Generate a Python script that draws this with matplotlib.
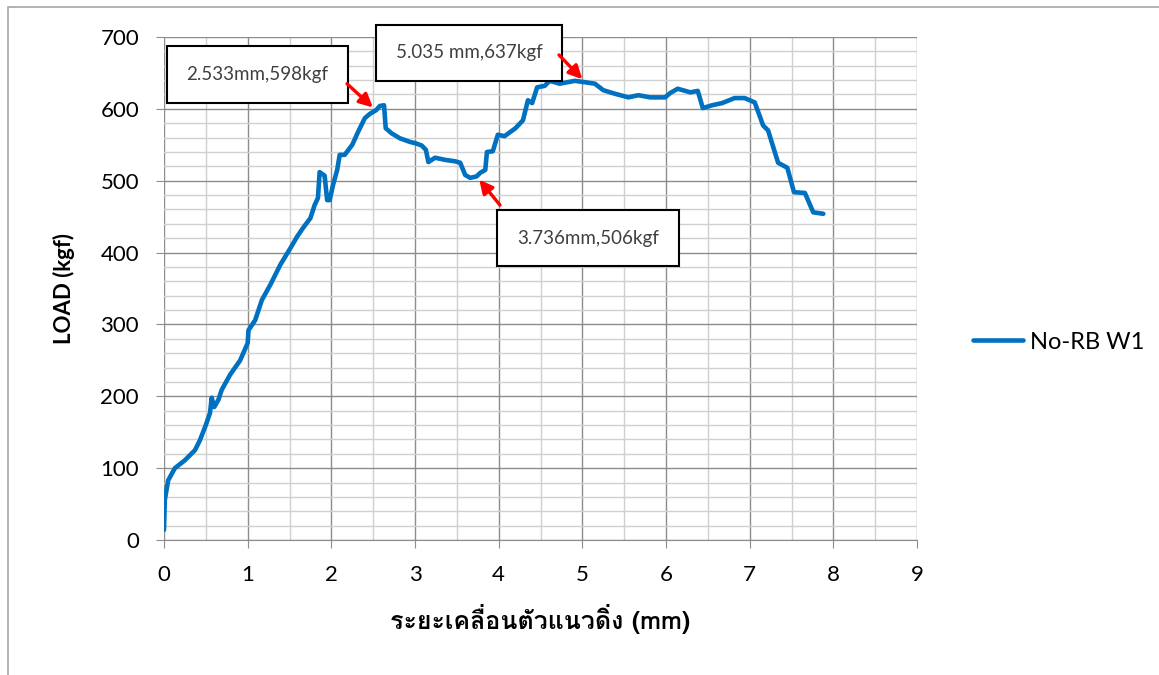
import matplotlib
matplotlib.use('Agg')
import matplotlib.pyplot as plt
from matplotlib import font_manager
from matplotlib.patches import Rectangle
from matplotlib.ticker import MultipleLocator
from fontTools.ttLib import TTFont

# displacement (mm) vs load (kgf), test No-RB W1
disp = [0.00, 0.01, 0.05, 0.13, 0.25, 0.37, 0.43, 0.50, 0.55, 0.57, 0.60, 0.65,
        0.69, 0.79, 0.91, 1.00, 1.01, 1.09, 1.17, 1.27, 1.39, 1.51, 1.59, 1.66,
        1.75, 1.80, 1.84, 1.86, 1.92, 1.95, 1.98, 2.02, 2.07, 2.10, 2.16, 2.25,
        2.32, 2.40, 2.46, 2.533, 2.58, 2.63, 2.65, 2.72, 2.82, 2.94, 3.01, 3.08,
        3.13, 3.16, 3.24, 3.36, 3.48, 3.54, 3.60, 3.66, 3.736, 3.78, 3.84, 3.86,
        3.93, 3.99, 4.07, 4.20, 4.29, 4.35, 4.40, 4.46, 4.55, 4.61, 4.73, 4.91,
        5.035, 5.15, 5.25, 5.39, 5.55, 5.67, 5.81, 5.99, 6.05, 6.14, 6.29, 6.38,
        6.44, 6.55, 6.67, 6.82, 6.94, 7.06, 7.12, 7.16, 7.22, 7.34, 7.45, 7.53,
        7.66, 7.76, 7.88]
load = [14, 56, 83, 100, 111, 125, 139, 160, 177, 198, 185, 195,
        209, 230, 250, 274, 292, 306, 334, 355, 383, 406, 422, 434,
        448, 466, 476, 512, 507, 473, 473, 494, 515, 536, 536, 550,
        568, 587, 593, 598, 604, 605, 573, 566, 559, 554, 552, 549,
        543, 526, 532, 529, 527, 525, 508, 504, 506, 511, 515, 540,
        541, 564, 562, 573, 584, 612, 608, 630, 632, 639, 635, 639,
        637, 635, 626, 621, 616, 619, 616, 616, 622, 628, 623, 625,
        601, 605, 608, 615, 615, 609, 590, 577, 570, 525, 518, 484,
        483, 456, 454]

# callouts: (x, y, text)
notes = [(2.533, 598, '2.533mm,598kgf'),
         (5.035, 637, '5.035 mm,637kgf'),
         (3.736, 506, '3.736mm,506kgf')]


def has_thai(path):
    try:
        f = TTFont(path, fontNumber=0, lazy=True)
        cmap = f.getBestCmap() or {}
        return 0x0E23 in cmap and 0x0E30 in cmap
    except Exception:
        return False


thai_font = None
for fe in font_manager.fontManager.ttflist:
    if has_thai(fe.fname):
        thai_font = fe.name
        break

base = ['Lato', 'DejaVu Sans']
plt.rcParams['font.family'] = base

W, H = 1159, 675
fig = plt.figure(figsize=(W / 100, H / 100), dpi=100)
ax = fig.add_axes([164 / W, 1 - 540 / H, (917 - 164) / W, (540 - 37) / H])

# outer chart frame
fig.add_artist(Rectangle((8 / W, -0.1), 1.2, 1 - 7 / H + 0.1, transform=fig.transFigure,
                         fill=False, edgecolor='#A6A6A6', linewidth=1.2))

ax.plot(disp, load, color='#0070C0', linewidth=3.3, solid_joinstyle='round',
        solid_capstyle='round', label='No-RB W1', zorder=3)

ax.set_xlim(0, 9)
ax.set_ylim(0, 700)
ax.xaxis.set_major_locator(MultipleLocator(1))
ax.xaxis.set_minor_locator(MultipleLocator(0.5))
ax.yaxis.set_major_locator(MultipleLocator(100))
ax.yaxis.set_minor_locator(MultipleLocator(20))
ax.grid(which='major', color='#8C8C8C', linewidth=1.0)
ax.grid(which='minor', color='#D0D0D0', linewidth=1.0)
ax.set_axisbelow(True)
for s in ['top', 'right', 'left']:
    ax.spines[s].set_visible(False)
ax.spines['bottom'].set_color('#8C8C8C')
ax.tick_params(which='major', length=6, color='#8C8C8C', labelsize=16, pad=12)
ax.tick_params(which='minor', length=0)

ax.set_ylabel('LOAD (kgf)', fontsize=16, fontweight='bold', labelpad=18)
xl_fam = [thai_font] + base if thai_font else base
ax.set_xlabel('ระยะเคลื่อนตัวแนวดิ่ง (mm)', fontsize=18, fontweight='bold',
              family=xl_fam, labelpad=14)

# boxed callouts with short red arrows
box_at = [(1.117, 648), (3.645, 678), (5.067, 420)]
tail_at = [(2.187, 635), (4.721, 675), (4.016, 466)]
box = dict(boxstyle='square,pad=1.05', fc='white', ec='black', lw=1.5)
arr = dict(arrowstyle='-|>', color='red', lw=2.4, mutation_scale=20, shrinkA=0, shrinkB=3)
for (x, y, t), (bx, by), (tx, ty) in zip(notes, box_at, tail_at):
    ax.text(bx, by, t, fontsize=13.5, color='#404040', ha='center', va='center',
            bbox=box, zorder=5, clip_on=False)
    ax.annotate('', xy=(x, y), xytext=(tx, ty), arrowprops=arr, zorder=6,
                annotation_clip=False)

fig.legend(loc='center left', bbox_to_anchor=(952 / W, 1 - 342 / H), frameon=False,
           fontsize=17, handlelength=2.1, handletextpad=0.3)

fig.savefig('out.png', dpi=100)
